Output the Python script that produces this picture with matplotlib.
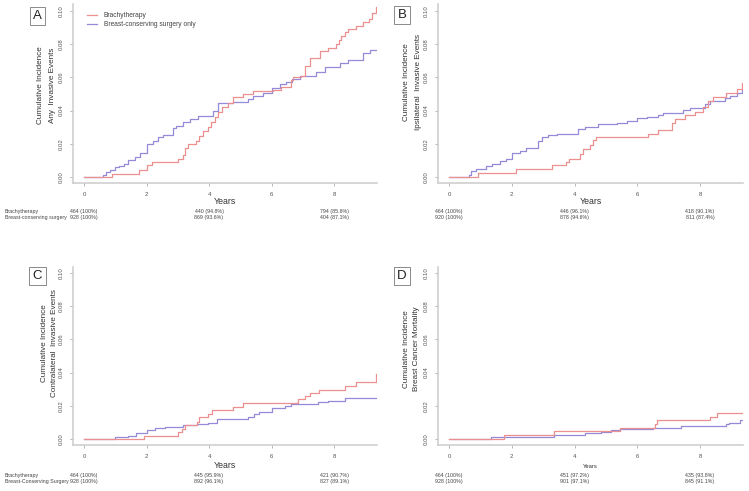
import matplotlib
matplotlib.use("Agg")
import matplotlib.pyplot as plt

plt.rcParams['font.family'] = ['Liberation Sans', 'DejaVu Sans']

W, H = 749, 491

# ---------------- data ----------------
years_ticks = [0, 2, 4, 6, 8]
y_ticks = [0.00, 0.02, 0.04, 0.06, 0.08, 0.10]
t_end = 9.35

# Panel A: Any invasive events
a_bra_t = [0, 0.91, 1.76, 2.0, 2.18, 3.0, 3.17, 3.22, 3.33, 3.57, 3.68, 3.81, 3.97, 4.07, 4.18,
           4.29, 4.43, 4.61, 4.77, 5.09, 5.41, 6.05, 6.31, 6.63, 6.69, 6.95, 7.06, 7.24, 7.54,
           7.81, 8.07, 8.15, 8.23, 8.34, 8.45, 8.69, 8.93, 9.12, 9.23, 9.33]
a_bra_y = [0, 0.002, 0.0044, 0.007, 0.009, 0.0108, 0.0134, 0.0174, 0.0198, 0.0214, 0.0244, 0.0278,
           0.030, 0.033, 0.036, 0.039, 0.042, 0.0444, 0.048, 0.0498, 0.052, 0.0525, 0.0544, 0.0584,
           0.060, 0.061, 0.067, 0.0716, 0.076, 0.078, 0.0804, 0.0824, 0.0848, 0.0874, 0.089, 0.091,
           0.0934, 0.0954, 0.0988, 0.1024]
a_bcs_t = [0, 0.61, 0.69, 0.82, 0.98, 1.12, 1.27, 1.41, 1.62, 1.78, 2.0, 2.21, 2.37, 2.53, 2.85,
           2.95, 3.17, 3.38, 3.65, 4.13, 4.29, 4.77, 5.25, 5.41, 5.73, 6.03, 6.26, 6.47, 6.67, 6.9,
           7.43, 7.7, 8.18, 8.45, 8.93, 9.14]
a_bcs_y = [0, 0.001, 0.0028, 0.0044, 0.0058, 0.0068, 0.008, 0.010, 0.012, 0.0144, 0.0198, 0.0218,
           0.0238, 0.0254, 0.0294, 0.031, 0.033, 0.035, 0.0368, 0.040, 0.0444, 0.0454, 0.0472,
           0.049, 0.0508, 0.0536, 0.0558, 0.057, 0.0588, 0.061, 0.0634, 0.066, 0.0688, 0.0704,
           0.0744, 0.0768]

# Panel B: Ipsilateral invasive events
b_bra_t = [0, 0.93, 2.15, 3.27, 3.74, 3.83, 4.17, 4.28, 4.49, 4.6, 4.68, 6.35, 6.67, 7.1, 7.2,
           7.52, 7.84, 8.1, 8.27, 8.43, 8.83, 9.17, 9.33]
b_bra_y = [0, 0.0024, 0.0048, 0.007, 0.009, 0.011, 0.014, 0.0168, 0.0194, 0.022, 0.0242, 0.026,
           0.0284, 0.0324, 0.035, 0.0374, 0.0394, 0.0424, 0.0458, 0.0482, 0.0504, 0.0528, 0.0564]
b_bcs_t = [0, 0.64, 0.71, 0.87, 1.19, 1.38, 1.62, 1.81, 2.02, 2.26, 2.47, 2.84, 2.95, 3.16, 3.43,
           4.12, 4.33, 4.76, 5.34, 5.66, 5.98, 6.3, 6.67, 6.83, 7.47, 7.68, 8.16, 8.32, 8.8, 8.96,
           9.17, 9.33]
b_bcs_y = [0, 0.0014, 0.0034, 0.0048, 0.0064, 0.0078, 0.0094, 0.011, 0.0144, 0.0158, 0.0176,
           0.0214, 0.0238, 0.0254, 0.026, 0.029, 0.030, 0.0318, 0.0328, 0.034, 0.0354, 0.036,
           0.0374, 0.0388, 0.0404, 0.0414, 0.0438, 0.0458, 0.0476, 0.0488, 0.0504, 0.0524]

# Panel C: Contralateral invasive events
c_bra_t = [0, 1.92, 3.0, 3.15, 3.22, 3.62, 3.68, 3.97, 4.1, 4.77, 5.09, 6.85, 7.06, 7.24, 7.52,
           8.34, 8.69, 9.33]
c_bra_y = [0, 0.002, 0.004, 0.006, 0.0084, 0.0104, 0.013, 0.0148, 0.0174, 0.019, 0.0214, 0.0238,
           0.0258, 0.0278, 0.0298, 0.0318, 0.0344, 0.039]
c_bcs_t = [0, 0.98, 1.41, 1.67, 2.0, 2.26, 2.58, 3.17, 3.6, 3.97, 4.26, 5.25, 5.43, 5.6, 6.03,
           6.42, 6.63, 7.49, 7.81, 8.34]
c_bcs_y = [0, 0.001, 0.002, 0.0034, 0.0054, 0.0064, 0.0074, 0.0084, 0.0092, 0.0096, 0.012,
           0.0134, 0.015, 0.0164, 0.0184, 0.0196, 0.0208, 0.022, 0.023, 0.025]

# Panel D: Breast cancer mortality
d_bra_t = [0, 1.76, 3.35, 5.45, 6.56, 6.64, 8.32, 8.53]
d_bra_y = [0, 0.0022, 0.0048, 0.0066, 0.0088, 0.0114, 0.013, 0.0154]
d_bcs_t = [0, 1.33, 3.35, 4.33, 4.86, 5.15, 5.45, 6.51, 7.41, 8.83, 8.94, 9.26]
d_bcs_y = [0, 0.001, 0.0024, 0.0034, 0.0044, 0.0054, 0.006, 0.0068, 0.0078, 0.0088, 0.0098, 0.0114]

legend_labels = ["Brachytherapy", "Breast-conserving surgery only"]
panel_letters = ["A", "B", "C", "D"]
ylabels = ["Cumulative Incidence\nAny  Invasive Events",
           "Cumulative Incidence\nIpsilateral  Invasive Events",
           "Cumulative Incidence\nContralateral  Invasive Events",
           "Cumulative Incidence\nBreast Cancer Mortality"]
risk_rows_AB = ["Brachytherapy", "Breast-conserving surgery"]
risk_rows_CD = ["Brachytherapy", "Breast-Conserving Surgery"]
risk_times = [0, 4, 8]
risk_A = [["464 (100%)", "440 (94.8%)", "794 (85.6%)"], ["928 (100%)", "869 (93.6%)", "404 (87.1%)"]]
risk_B = [["464 (100%)", "446 (96.1%)", "418 (90.1%)"], ["920 (100%)", "878 (94.6%)", "811 (87.4%)"]]
risk_C = [["464 (100%)", "445 (95.9%)", "421 (90.7%)"], ["928 (100%)", "892 (96.1%)", "827 (89.1%)"]]
risk_D = [["464 (100%)", "451 (97.2%)", "435 (93.8%)"], ["928 (100%)", "901 (97.1%)", "845 (91.1%)"]]

RED = "#eb8f8f"
PUR = "#938ad8"

fig = plt.figure(figsize=(W / 100, H / 100), dpi=100)


def add_ax(l, t, r, b):
    return fig.add_axes([l / W, 1 - b / H, (r - l) / W, (b - t) / H])


def fx(px):
    return px / W


def fy(py):
    return 1 - py / H


def extend(t, y):
    return list(t) + [t_end], list(y) + [y[-1]]


panels = [
    dict(box=(73, 4, 377, 183), x0=84, x8=334, y0=177, y10=11,
         bra=(a_bra_t, a_bra_y), bcs=(a_bcs_t, a_bcs_y), risk=risk_A, rows=risk_rows_AB,
         rowx=5, rowy=(211, 218), yearsy=201, yearsfs=6.3, lbox=(30, 8, 45, 24),
         ylx=(41, 52), ylc=85),
    dict(box=(438, 4, 743, 183), x0=449, x8=700, y0=177, y10=11,
         bra=(b_bra_t, b_bra_y), bcs=(b_bcs_t, b_bcs_y), risk=risk_B, rows=None,
         rowx=None, rowy=(211, 218), yearsy=201, yearsfs=6.3, lbox=(395, 6, 409, 24),
         ylx=(407, 418), ylc=82),
    dict(box=(73, 267, 377, 445), x0=84, x8=334, y0=439, y10=273,
         bra=(c_bra_t, c_bra_y), bcs=(c_bcs_t, c_bcs_y), risk=risk_C, rows=risk_rows_CD,
         rowx=5, rowy=(475, 482), yearsy=465, yearsfs=6.3, lbox=(30, 267, 45, 285),
         ylx=(44, 54), ylc=343),
    dict(box=(438, 267, 743, 445), x0=449, x8=700, y0=439, y10=273,
         bra=(d_bra_t, d_bra_y), bcs=(d_bcs_t, d_bcs_y), risk=risk_D, rows=None,
         rowx=None, rowy=(475, 482), yearsy=466, yearsfs=4.2, lbox=(395, 267, 409, 285),
         ylx=(407, 417), ylc=349),
]

for i, p in enumerate(panels):
    l, t, r, b = p['box']
    ax = add_ax(l, t, r, b)
    ppy = (p['x8'] - p['x0']) / 8.0
    ax.set_xlim((l - p['x0']) / ppy, (r - p['x0']) / ppy)
    ppv = (p['y0'] - p['y10']) / 0.10
    ax.set_ylim((p['y0'] - b) / ppv, (p['y0'] - t) / ppv)

    tb, yb = extend(*p['bcs'])
    tr, yr = extend(*p['bra'])
    ax.step(tb, yb, where='post', color=PUR, lw=0.9)
    ax.step(tr, yr, where='post', color=RED, lw=0.9)

    for s in ['top', 'right']:
        ax.spines[s].set_visible(False)
    for s in ['left', 'bottom']:
        ax.spines[s].set_color("#cccccc")
        ax.spines[s].set_linewidth(1.1)
    ax.set_xticks(years_ticks)
    ax.set_xticklabels([str(v) for v in years_ticks], fontsize=4.3, color="#555555")
    ax.set_yticks(y_ticks)
    ax.set_yticklabels(["%.2f" % v for v in y_ticks], fontsize=4.3, color="#555555",
                       rotation=90, va='center')
    ax.tick_params(axis='both', length=2.5, width=0.6, color="#aaaaaa", pad=4)

    fig.text(fx((l + r) / 2), fy(p['yearsy']), "Years", ha='center', va='center',
             fontsize=p['yearsfs'], color="#333333")

    l1, l2 = ylabels[i].split("\n")
    ymid = fy(p['ylc'])
    fig.text(fx(p['ylx'][0]), ymid, l1, rotation=90, ha='center', va='center',
             fontsize=5.9, color="#333333")
    fig.text(fx(p['ylx'][1]), ymid, l2, rotation=90, ha='center', va='center',
             fontsize=5.9, color="#333333")

    bl, bt, br, bb = p['lbox']
    fig.text(fx((bl + br) / 2), fy((bt + bb) / 2), panel_letters[i], ha='center', va='center',
             fontsize=9.5, color="#222222",
             bbox=dict(boxstyle='square,pad=0.25', fc='white', ec='#777777', lw=0.6))

    for k in range(2):
        for j, tt in enumerate(risk_times):
            xp = p['x0'] + tt * ppy
            fig.text(fx(xp), fy(p['rowy'][k]), p['risk'][k][j], ha='center', va='center',
                     fontsize=3.8, color="#444444")
        if p['rows'] is not None:
            fig.text(fx(p['rowx']), fy(p['rowy'][k]), p['rows'][k], ha='left', va='center',
                     fontsize=3.8, color="#444444")

    if i == 0:
        ax.plot([], [], color=RED, lw=0.9, label=legend_labels[0])
        ax.plot([], [], color=PUR, lw=0.9, label=legend_labels[1])
        h, lab = ax.get_legend_handles_labels()
        leg = ax.legend(h[-2:], lab[-2:], loc='upper left',
                        bbox_to_anchor=((87 - l) / (r - l), 1 - (12 - t) / (b - t)),
                        frameon=False, fontsize=4.8, handlelength=1.5, handletextpad=1.0,
                        labelspacing=0.3, borderaxespad=0, borderpad=0)
        for txt in leg.get_texts():
            txt.set_color("#444444")

fig.savefig("out.png", dpi=100)
